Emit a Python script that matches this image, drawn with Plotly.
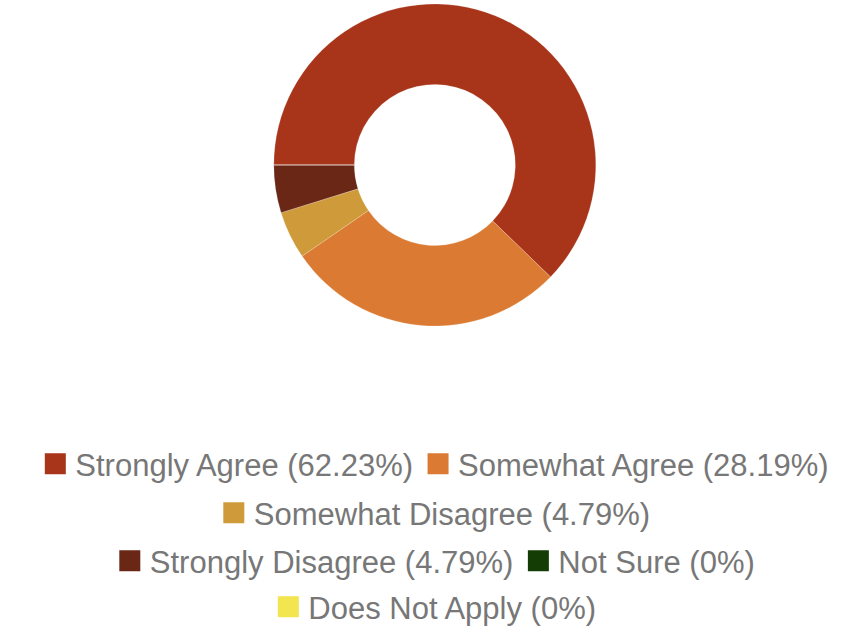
import plotly.graph_objects as go

# Survey responses (counts) -> shares shown in the legend
labels = [
    "Strongly Agree",
    "Somewhat Agree",
    "Somewhat Disagree",
    "Strongly Disagree",
    "Not Sure",
    "Does Not Apply",
]
counts = [117, 53, 9, 9, 0, 0]
colors = ["#A8341A", "#DB7B33", "#CF9B3A", "#6A2716", "#143D05", "#F3E54F"]

# which legend row each entry sits in
legend_rows = ["legend", "legend", "legend2", "legend3", "legend3", "legend4"]
row_centers_px = [464, 513, 561, 607]

W, H = 861, 628
total = sum(counts)
pcts = [round(100 * c / total, 2) for c in counts]

fig = go.Figure()

# Donut
fig.add_trace(
    go.Pie(
        labels=labels,
        values=counts,
        hole=0.5,
        sort=False,
        direction="clockwise",
        rotation=-90,
        marker=dict(colors=colors, line=dict(color="rgba(255,255,255,0.4)", width=0.5)),
        textinfo="none",
        hoverinfo="label+percent",
        showlegend=False,
        domain=dict(x=[0.01, 1.0], y=[1 - 326 / H, 1 - 4 / H]),
    )
)

# Legend entries (one dummy trace per category, split over centered rows)
for lab, p, col, lg in zip(labels, pcts, colors, legend_rows):
    fig.add_trace(
        go.Scatter(
            x=[None], y=[None],
            mode="markers",
            name=f"{lab} ({p:g}%)",
            marker=dict(symbol="square", size=16, color=col,
                        line=dict(color=col, width=5)),
            legend=lg,
            showlegend=True,
            hoverinfo="skip",
        )
    )

legend_style = dict(
    orientation="h",
    xanchor="center",
    x=0.505,
    yanchor="middle",
    bgcolor="rgba(0,0,0,0)",
    font=dict(family="Liberation Sans, Arial, sans-serif", size=31, color="#777777"),
    itemclick=False,
    itemdoubleclick=False,
)

fig.update_layout(
    width=W,
    height=H,
    margin=dict(l=0, r=0, t=0, b=0, autoexpand=False),
    paper_bgcolor="white",
    plot_bgcolor="white",
    xaxis=dict(visible=False),
    yaxis=dict(visible=False),
    legend=dict(legend_style, y=1 - row_centers_px[0] / H),
    legend2=dict(legend_style, y=1 - row_centers_px[1] / H),
    legend3=dict(legend_style, y=1 - row_centers_px[2] / H),
    legend4=dict(legend_style, y=1 - row_centers_px[3] / H),
)

# drop the default body margin so the figure sits at the window's corner
fig.write_html(
    "out.html",
    config={"displayModeBar": False},
    post_script="document.body.style.margin='0';",
)
